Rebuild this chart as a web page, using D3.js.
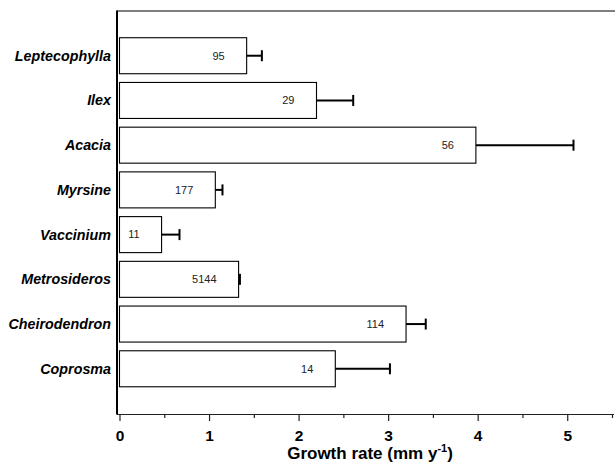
<!DOCTYPE html>
<html>
<head>
<meta charset="utf-8">
<script src="https://cdn.jsdelivr.net/npm/d3@7"></script>
<style>
  body { margin: 0; background: #fff; }
  svg { display: block; font-family: "Liberation Sans", Arial, sans-serif; }
</style>
</head>
<body>
<svg id="chart" width="616" height="470"></svg>
<script>
// species, top to bottom
const species = ['Leptecophylla', 'Ilex', 'Acacia', 'Myrsine', 'Vaccinium', 'Metrosideros', 'Cheirodendron', 'Coprosma'];
// mean growth rate (mm/y)
const growth = [1.42, 2.2, 3.98, 1.07, 0.47, 1.33, 3.2, 2.41];
// error bar (upper arm only)
const errors = [0.17, 0.41, 1.09, 0.08, 0.2, 0.015, 0.22, 0.61];
// sample sizes printed in the bars
const sampleN = [95, 29, 56, 177, 11, 5144, 114, 14];
const xTicks = [0, 1, 2, 3, 4, 5];
const xMinorTicks = [0.5, 1.5, 2.5, 3.5, 4.5, 5.5];

const svg = d3.select('#chart');

const x = d3.scaleLinear().domain([0, 5.5]).range([119.5, 612]);
// one slot per species plus half a slot above and below
const y = d3.scaleLinear().domain([0, species.length + 1]).range([11, 413.5]);
const barH = 36;

// frame: top line and left axis
svg.append('line')
  .attr('x1', 117).attr('x2', 615)
  .attr('y1', 11).attr('y2', 11)
  .attr('stroke', '#000').attr('stroke-width', 1.2);

svg.append('line')
  .attr('x1', 117).attr('x2', 117)
  .attr('y1', 10.5).attr('y2', 414.5)
  .attr('stroke', '#000').attr('stroke-width', 2);

// x axis
const xAxis = svg.append('g')
  .attr('transform', 'translate(0,414)')
  .call(d3.axisBottom(x).tickValues(xTicks).tickFormat(d3.format('d'))
    .tickSize(7).tickSizeOuter(0).tickPadding(9));
xAxis.select('.domain').attr('stroke', '#222').attr('stroke-width', 1.2)
  .attr('d', 'M117,0.5H614');
xAxis.selectAll('.tick line').attr('stroke', '#222').attr('stroke-width', 1.2);
xAxis.selectAll('.tick text')
  .attr('font-size', 15.5).attr('font-weight', 'bold').attr('fill', '#000')
  .attr('font-family', '"Liberation Sans", Arial, sans-serif');

const minor = svg.append('g')
  .attr('transform', 'translate(0,414)')
  .call(d3.axisBottom(x).tickValues(xMinorTicks).tickSize(4).tickFormat(''));
minor.select('.domain').remove();
minor.selectAll('.tick line').attr('stroke', '#222').attr('stroke-width', 1.2);

// axis title
const title = svg.append('text')
  .attr('x', 370).attr('y', 459)
  .attr('text-anchor', 'middle')
  .attr('font-size', 17).attr('font-weight', 'bold');
title.append('tspan').text('Growth rate (mm y');
title.append('tspan').attr('font-size', 11).attr('dy', -7).text('-1');
title.append('tspan').attr('dy', 7).text(')');

// bars
const rows = svg.selectAll('g.row')
  .data(species)
  .enter()
  .append('g')
  .classed('row', true);

rows.append('rect')
  .attr('x', x(0))
  .attr('y', (d, i) => y(i + 1) - barH / 2)
  .attr('width', (d, i) => x(growth[i]) - x(0))
  .attr('height', barH)
  .attr('fill', '#fff')
  .attr('stroke', '#000')
  .attr('stroke-width', 1.1);

// error bars
rows.append('line')
  .attr('x1', (d, i) => x(growth[i]))
  .attr('x2', (d, i) => x(growth[i] + errors[i]))
  .attr('y1', (d, i) => y(i + 1))
  .attr('y2', (d, i) => y(i + 1))
  .attr('stroke', '#000').attr('stroke-width', 2);

rows.append('line')
  .attr('x1', (d, i) => x(growth[i] + errors[i]))
  .attr('x2', (d, i) => x(growth[i] + errors[i]))
  .attr('y1', (d, i) => y(i + 1) - 5.5)
  .attr('y2', (d, i) => y(i + 1) + 5.5)
  .attr('stroke', '#000').attr('stroke-width', 2);

// sample size labels
rows.append('text')
  .attr('x', (d, i) => x(growth[i]) - 22)
  .attr('y', (d, i) => y(i + 1))
  .attr('dy', '0.35em')
  .attr('text-anchor', 'end')
  .attr('font-size', 11)
  .attr('fill', '#222')
  .text((d, i) => sampleN[i]);

// species labels
rows.append('text')
  .attr('x', 111)
  .attr('y', (d, i) => y(i + 1))
  .attr('dy', '0.35em')
  .attr('text-anchor', 'end')
  .attr('font-size', 14.3)
  .attr('font-weight', 'bold')
  .attr('font-style', 'italic')
  .text(d => d);
</script>
</body>
</html>
